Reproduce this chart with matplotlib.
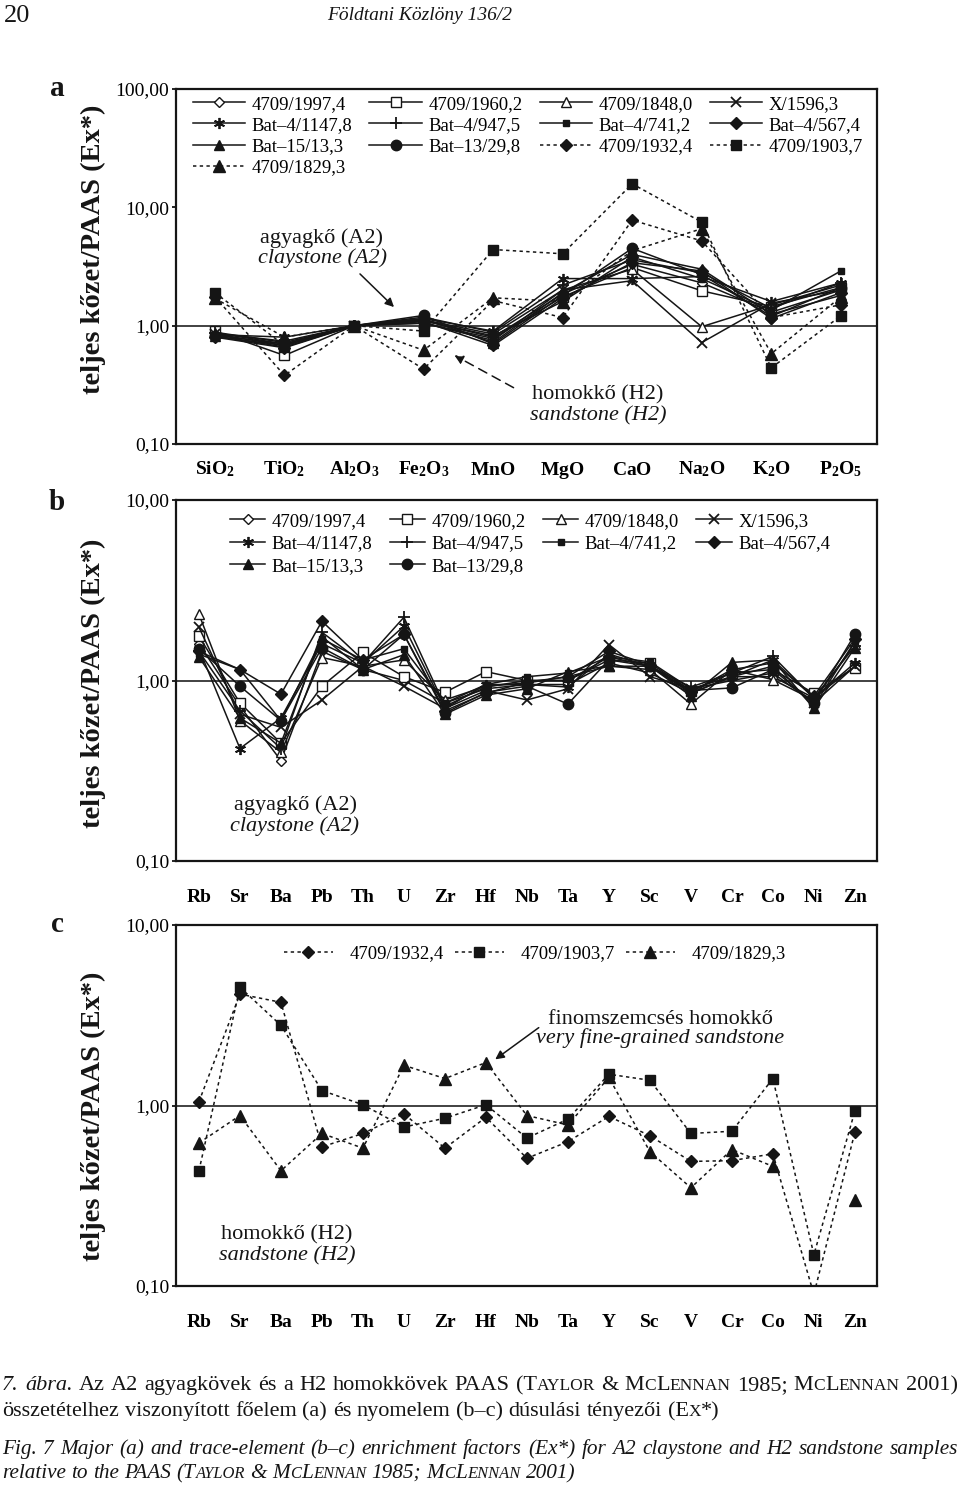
import numpy as np
import matplotlib
matplotlib.use('Agg')
import matplotlib.pyplot as plt

SERIF = 'Liberation Serif'
plt.rcParams['font.family'] = [SERIF, 'DejaVu Serif']
plt.rcParams['mathtext.fontset'] = 'custom'
plt.rcParams['mathtext.rm'] = SERIF
plt.rcParams['mathtext.bf'] = SERIF + ':bold'
plt.rcParams['mathtext.it'] = SERIF + ':italic'

# ---------------- data ----------------
oxides = [r'$\mathbf{SiO_2}$', r'$\mathbf{TiO_2}$', r'$\mathbf{Al_2O_3}$', r'$\mathbf{Fe_2O_3}$',
          r'$\mathbf{MnO}$', r'$\mathbf{MgO}$', r'$\mathbf{CaO}$', r'$\mathbf{Na_2O}$',
          r'$\mathbf{K_2O}$', r'$\mathbf{P_2O_5}$']
traces = ['Rb', 'Sr', 'Ba', 'Pb', 'Th', 'U', 'Zr', 'Hf', 'Nb', 'Ta', 'Y', 'Sc', 'V', 'Cr', 'Co', 'Ni', 'Zn']

ytick_a = [0.1, 1, 10, 100]
ytick_a_labels = ['0,10', '1,00', '10,00', '100,00']
ytick_bc = [0.1, 1, 10]
ytick_bc_labels = ['0,10', '1,00', '10,00']

claystone_names = ['4709/1997,4', '4709/1960,2', '4709/1848,0', 'X/1596,3',
                   'Bat–4/1147,8', 'Bat–4/947,5', 'Bat–4/741,2', 'Bat–4/567,4',
                   'Bat–15/13,3', 'Bat–13/29,8']
sandstone_names = ['4709/1932,4', '4709/1903,7', '4709/1829,3']

# panel a: major elements
a_4709_1997_4 = [0.88, 0.72, 1.00, 1.10, 0.80, 1.85, 3.3, 2.3, 1.30, 2.0]
a_4709_1960_2 = [0.90, 0.56, 1.00, 1.05, 0.78, 1.75, 3.1, 1.97, 1.45, 2.1]
a_4709_1848_0 = [0.87, 0.70, 1.00, 1.12, 0.85, 2.0, 3.0, 0.98, 1.50, 2.2]
a_x_1596_3 = [0.85, 0.68, 1.00, 1.05, 0.75, 2.0, 2.4, 0.72, 1.55, 2.0]
a_bat4_1147_8 = [0.84, 0.80, 1.00, 1.15, 0.90, 2.5, 2.5, 2.6, 1.60, 2.3]
a_bat4_947_5 = [0.86, 0.74, 1.00, 1.18, 0.88, 2.2, 3.6, 2.8, 1.40, 2.3]
a_bat4_741_2 = [0.83, 0.70, 1.00, 1.10, 0.82, 1.6, 3.8, 2.5, 1.35, 2.9]
a_bat4_567_4 = [0.80, 0.65, 1.00, 1.08, 0.68, 1.7, 3.4, 2.9, 1.15, 1.9]
a_bat15_13_3 = [0.82, 0.66, 1.00, 1.14, 0.72, 1.9, 4.0, 3.0, 1.25, 1.8]
a_bat13_29_8 = [0.81, 0.68, 1.00, 1.22, 0.70, 1.8, 4.5, 2.7, 1.20, 2.1]
a_4709_1932_4 = [1.75, 0.38, 1.00, 0.43, 1.63, 1.17, 7.8, 5.2, 1.17, 1.5]
a_4709_1903_7 = [1.90, 0.68, 1.00, 0.90, 4.4, 4.05, 15.8, 7.5, 0.44, 1.21]
a_4709_1829_3 = [1.70, 0.80, 1.00, 0.62, 1.72, 1.6, 4.3, 6.6, 0.58, 1.75]

# panel b: trace elements, claystones
b_4709_1997_4 = [1.60, 0.72, 0.36, 1.45, 1.15, 1.00, 0.75, 0.90, 0.95, 0.95, 1.25, 1.10, 0.85, 1.05, 1.05, 0.80, 1.20]
b_4709_1960_2 = [1.76, 0.75, 0.45, 0.93, 1.43, 1.05, 0.86, 1.12, 1.00, 1.00, 1.30, 1.25, 0.88, 1.10, 1.15, 0.85, 1.18]
b_4709_1848_0 = [2.33, 0.60, 0.40, 1.34, 1.20, 1.30, 0.78, 0.93, 0.97, 1.05, 1.20, 1.15, 0.74, 1.15, 1.01, 0.78, 1.60]
b_x_1596_3 = [1.97, 0.65, 0.55, 0.78, 1.20, 0.93, 0.70, 0.88, 0.78, 0.90, 1.58, 1.05, 0.90, 1.00, 1.10, 0.75, 1.20]
b_bat4_1147_8 = [1.50, 0.42, 0.62, 1.60, 1.25, 2.00, 0.70, 0.95, 0.95, 0.92, 1.40, 1.20, 0.85, 1.05, 1.30, 0.80, 1.25]
b_bat4_947_5 = [1.45, 0.68, 0.42, 1.85, 1.25, 2.24, 0.72, 0.92, 1.00, 1.00, 1.35, 1.20, 0.92, 1.10, 1.36, 0.80, 1.55]
b_bat4_741_2 = [1.40, 1.15, 0.60, 1.70, 1.30, 1.50, 0.75, 0.95, 1.05, 1.10, 1.35, 1.27, 0.90, 1.05, 1.20, 0.72, 1.65]
b_bat4_567_4 = [1.45, 1.15, 0.84, 2.13, 1.30, 1.80, 0.68, 0.85, 0.98, 1.05, 1.45, 1.22, 0.86, 1.15, 1.25, 0.82, 1.70]
b_bat15_13_3 = [1.35, 0.62, 0.45, 1.75, 1.15, 1.39, 0.65, 0.83, 0.90, 1.12, 1.20, 1.20, 0.82, 1.26, 1.30, 0.70, 1.52]
b_bat13_29_8 = [1.50, 0.93, 0.60, 1.52, 1.15, 1.80, 0.66, 0.86, 0.93, 0.74, 1.30, 1.20, 0.88, 0.91, 1.15, 0.75, 1.80]

# panel c: trace elements, sandstones
c_4709_1932_4 = [1.05, 4.14, 3.73, 0.59, 0.70, 0.90, 0.58, 0.86, 0.51, 0.63, 0.87, 0.68, 0.49, 0.495, 0.54, 0.09, 0.71]
c_4709_1903_7 = [0.435, 4.52, 2.78, 1.21, 1.01, 0.76, 0.85, 1.01, 0.66, 0.84, 1.49, 1.38, 0.70, 0.72, 1.41, 0.149, 0.93]
c_4709_1829_3 = [0.62, 0.88, 0.435, 0.70, 0.58, 1.67, 1.41, 1.73, 0.88, 0.78, 1.43, 0.555, 0.35, 0.57, 0.46, np.nan, 0.30]

# ---------------- styles ----------------
INK = '#151515'
clay_styles = [
    dict(marker='D', ms=5.5, mfc='white'),
    dict(marker='s', ms=7, mfc='white'),
    dict(marker='^', ms=7.5, mfc='white'),
    dict(marker='x', ms=7, mew=1.3),
    dict(marker=(6, 2, 0), ms=8, mew=1.3),
    dict(marker='+', ms=9, mew=1.3),
    dict(marker='s', ms=5),
    dict(marker='D', ms=6),
    dict(marker='^', ms=7.5),
    dict(marker='o', ms=7.5),
]
sand_styles = [dict(marker='D', ms=6.5), dict(marker='s', ms=7.5), dict(marker='^', ms=8)]
DOT = (0, (2.2, 2.2))

W, H = 960, 1485
fig = plt.figure(figsize=(W / 100, H / 100), dpi=100)


def fx(x):
    return x / W


def fy(y):
    return 1 - y / H


def axrect(l, t, r, b):
    return [l / W, 1 - b / H, (r - l) / W, (b - t) / H]


def setup(ax, labels, xlim, ylim, yt, ytl, xpad):
    ax.set_yscale('log')
    ax.set_xlim(*xlim)
    ax.set_ylim(*ylim)
    ax.set_yticks(yt)
    ax.set_yticklabels(ytl, fontsize=14)
    ax.yaxis.set_minor_locator(matplotlib.ticker.NullLocator())
    ax.set_xticks(range(len(labels)))
    ax.set_xticklabels(labels, fontsize=14, fontweight='bold')
    for lab in ax.get_xticklabels():
        lab.set_verticalalignment('baseline')
    ax.tick_params(axis='x', length=0, pad=xpad)
    ax.tick_params(axis='y', length=3, width=1.2, pad=2, direction='out')
    for s in ax.spines.values():
        s.set_linewidth(1.6)
        s.set_color(INK)
    ax.axhline(1, color='#333333', lw=1.3, zorder=1)


def plot_series(ax, x, data, style, ls, name):
    kw = dict(color=INK, mec=INK, lw=1.1, ls=ls, label=name, zorder=3)
    if 'mfc' not in style:
        kw['mfc'] = INK
    kw.update(style)
    return ax.plot(x, data, **kw)[0]


# ---------------- panel a ----------------
ax_a = fig.add_axes(axrect(176, 89, 877, 444))
setup(ax_a, oxides, (-0.56, 9.52), (0.1, 100), ytick_a, ytick_a_labels, 22)
xa = np.arange(len(oxides))
a_clay = [a_4709_1997_4, a_4709_1960_2, a_4709_1848_0, a_x_1596_3, a_bat4_1147_8,
          a_bat4_947_5, a_bat4_741_2, a_bat4_567_4, a_bat15_13_3, a_bat13_29_8]
a_sand = [a_4709_1932_4, a_4709_1903_7, a_4709_1829_3]
h_a = []
for d, st, nm in zip(a_clay, clay_styles, claystone_names):
    h_a.append(plot_series(ax_a, xa, d, st, '-', nm))
for d, st, nm in zip(a_sand, sand_styles, sandstone_names):
    h_a.append(plot_series(ax_a, xa, d, st, DOT, nm))
order_a = [0, 4, 8, 12, 1, 5, 9, 2, 6, 10, 3, 7, 11]
ax_a.legend([h_a[i] for i in order_a], [h_a[i].get_label() for i in order_a],
            ncol=4, loc='upper center', bbox_to_anchor=(0.502, 0.992), frameon=False,
            fontsize=13.5, handlelength=2.8, handletextpad=0.35, columnspacing=0.9,
            labelspacing=0.22, borderaxespad=0, borderpad=0.2, numpoints=1)

# ---------------- panel b ----------------
ax_b = fig.add_axes(axrect(176, 500, 877, 861))
setup(ax_b, traces, (-0.56, 16.54), (0.1, 10), ytick_bc, ytick_bc_labels, 29.5)
xt = np.arange(len(traces))
b_clay = [b_4709_1997_4, b_4709_1960_2, b_4709_1848_0, b_x_1596_3, b_bat4_1147_8,
          b_bat4_947_5, b_bat4_741_2, b_bat4_567_4, b_bat15_13_3, b_bat13_29_8]
h_b = []
for d, st, nm in zip(b_clay, clay_styles, claystone_names):
    h_b.append(plot_series(ax_b, xt, d, st, '-', nm))
order_b = [0, 4, 8, 1, 5, 9, 2, 6, 3, 7]
ax_b.legend([h_b[i] for i in order_b], [h_b[i].get_label() for i in order_b],
            ncol=4, loc='upper center', bbox_to_anchor=(0.505, 0.975), frameon=False,
            fontsize=13.5, handlelength=1.9, handletextpad=0.35, columnspacing=0.9,
            labelspacing=0.28, borderaxespad=0, borderpad=0.2, numpoints=1)

# ---------------- panel c ----------------
ax_c = fig.add_axes(axrect(176, 925, 877, 1286))
setup(ax_c, traces, (-0.56, 16.54), (0.1, 10), ytick_bc, ytick_bc_labels, 29.5)
c_sand = [c_4709_1932_4, c_4709_1903_7, c_4709_1829_3]
h_c = []
for d, st, nm in zip(c_sand, sand_styles, sandstone_names):
    h_c.append(plot_series(ax_c, xt, d, st, DOT, nm))
ax_c.legend(h_c, sandstone_names, ncol=3, loc='upper center', bbox_to_anchor=(0.512, 0.955),
            frameon=False, fontsize=13.5, handlelength=2.6, handletextpad=0.9,
            columnspacing=0.6, borderaxespad=0, borderpad=0.2, numpoints=1)

# ---------------- annotations ----------------
def note(x, y, s, style='normal', size=16):
    fig.text(fx(x), fy(y), s, fontsize=size, style=style, ha='center', va='center', color=INK)


note(322, 238, 'agyagkő (A2)')
note(322, 258, 'claystone (A2)', 'italic')
note(598, 395, 'homokkő (H2)')
note(598, 416, 'sandstone (H2)', 'italic')
note(295, 805, 'agyagkő (A2)')
note(295, 826, 'claystone (A2)', 'italic')
note(287, 1235, 'homokkő (H2)')
note(287, 1256, 'sandstone (H2)', 'italic')
note(660, 1020, 'finomszemcsés homokkő')
note(660, 1038, 'very fine-grained sandstone', 'italic')

fig.add_artist(matplotlib.patches.FancyArrowPatch(
    (fx(358), fy(272)), (fx(396), fy(309)), transform=fig.transFigure,
    arrowstyle='-|>', mutation_scale=13, lw=1.1, color=INK))
fig.add_artist(matplotlib.patches.FancyArrowPatch(
    (fx(516), fy(389)), (fx(452), fy(354)), transform=fig.transFigure,
    arrowstyle='-|>', mutation_scale=13, lw=1.1, color=INK, linestyle=(0, (6, 4))))
fig.add_artist(matplotlib.patches.FancyArrowPatch(
    (fx(541), fy(1026)), (fx(493), fy(1061)), transform=fig.transFigure,
    arrowstyle='-|>', mutation_scale=13, lw=1.1, color=INK))

# panel letters and y labels
for letter, y in [('a', 89), ('b', 502), ('c', 924)]:
    fig.text(fx(57), fy(y), letter, fontsize=21, fontweight='bold', ha='center', va='center', color=INK)
for yc in [249, 683, 1116]:
    fig.text(fx(93), fy(yc), 'teljes kőzet/PAAS (Ex*)', fontsize=20.5, fontweight='bold',
             rotation=90, ha='center', va='center', color=INK)

# header
fig.text(fx(4), fy(16), '20', fontsize=19, ha='left', va='center', color=INK)
fig.text(fx(420), fy(16), 'Földtani Közlöny 136/2', fontsize=14, style='italic',
         ha='center', va='center', color=INK)

# ---------------- caption ----------------
renderer = fig.canvas.get_renderer()
SC = 0.78


def parse(word, italic):
    parts, buf, small = [], '', False
    for ch in word:
        if ch in '{}':
            if buf:
                parts.append((buf, small, italic))
            buf = ''
            small = (ch == '{')
        else:
            buf += ch
    if buf:
        parts.append((buf, small, italic))
    return parts


def width(s, size, italic):
    t = fig.text(0, 0, s, fontsize=size, style='italic' if italic else 'normal')
    w = t.get_window_extent(renderer=renderer).width
    t.remove()
    return w


def space_w(size, italic):
    return width('a a', size, italic) - width('aa', size, italic)


def natural(words, size):
    tot = sum(width(s, size * (SC if sm else 1), it) for w, i in words for s, sm, it in parse(w, i))
    return tot + (len(words) - 1) * space_w(size, words[-1][1])


def draw_line(words, ybase, size, justify, x0=2, x1=958):
    parsed = [parse(w, it) for w, it in words]
    wws = []
    for p in parsed:
        wws.append([(s, sm, it, width(s, size * (SC if sm else 1), it)) for s, sm, it in p])
    total = sum(w for ww in wws for *_, w in ww)
    if justify:
        gap = (x1 - x0 - total) / (len(wws) - 1)
    else:
        gap = space_w(size, words[-1][1])
    x = x0
    for ww in wws:
        for s, sm, it, w in ww:
            fig.text(fx(x), fy(ybase), s, fontsize=size * (SC if sm else 1),
                     style='italic' if it else 'normal', ha='left', va='baseline', color=INK)
            x += w
        x += gap


line1 = [('7.', True), ('ábra.', True)] + [(w, False) for w in
         'Az A2 agyagkövek és a H2 homokkövek PAAS (T{AYLOR} & M{C}L{ENNAN} 1985; M{C}L{ENNAN} 2001)'.split()]
line2 = [(w, False) for w in
         'összetételhez viszonyított főelem (a) és nyomelem (b–c) dúsulási tényezői (E{X}*)'.split()]
line3 = [(w, True) for w in
         'Fig. 7 Major (a) and trace-element (b–c) enrichment factors (Ex*) for A2 claystone and H2 sandstone samples'.split()]
line4 = [(w, True) for w in
         'relative to the PAAS (T{AYLOR} & M{C}L{ENNAN} 1985; M{C}L{ENNAN} 2001)'.split()]

size_hu = min(10 * 740 / natural(line2, 10), 10 * 945 / natural(line1, 10))
size_en = 10 * 945 / natural(line3, 10)

draw_line(line1, 1390, size_hu, True)
draw_line(line2, 1416, size_hu, False)
draw_line(line3, 1454, size_en, True)
draw_line(line4, 1478, size_en, False)

fig.savefig('out.png', dpi=100)
